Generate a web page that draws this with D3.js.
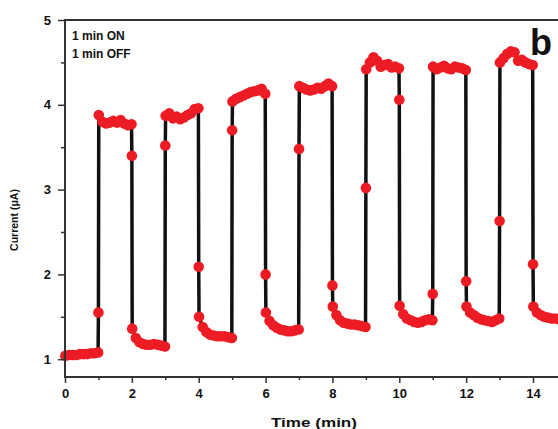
<!DOCTYPE html>
<html><head><meta charset="utf-8">
<script src="https://cdn.jsdelivr.net/npm/d3@7"></script>
<style>html,body{margin:0;padding:0;background:#fff;overflow:hidden}</style>
</head><body>
<svg id="chart" width="558" height="429"></svg>
<script>
// Each minute-long segment: 10 samples spread across the minute (values in µA)
const segmentStarts = [0,1,2,3,4,5,6,7,8,9,10,11,12,13,14];
const segmentValues = [
  [1.04,1.05,1.05,1.05,1.06,1.06,1.06,1.07,1.07,1.08],
  [3.88,3.80,3.78,3.79,3.81,3.79,3.82,3.78,3.76,3.77],
  [1.36,1.25,1.20,1.18,1.17,1.17,1.18,1.17,1.16,1.15],
  [3.87,3.90,3.84,3.86,3.83,3.85,3.88,3.90,3.95,3.96],
  [1.50,1.38,1.32,1.29,1.28,1.27,1.27,1.27,1.26,1.25],
  [4.04,4.07,4.09,4.11,4.13,4.15,4.16,4.17,4.19,4.13],
  [1.55,1.45,1.40,1.37,1.35,1.34,1.33,1.33,1.34,1.35],
  [4.22,4.20,4.18,4.17,4.18,4.20,4.19,4.22,4.25,4.22],
  [1.62,1.52,1.46,1.43,1.42,1.41,1.41,1.40,1.39,1.38],
  [4.42,4.50,4.56,4.52,4.45,4.47,4.48,4.44,4.45,4.43],
  [1.63,1.53,1.48,1.46,1.44,1.43,1.44,1.46,1.47,1.46],
  [4.45,4.42,4.44,4.46,4.43,4.42,4.45,4.44,4.43,4.41],
  [1.62,1.55,1.52,1.49,1.47,1.46,1.45,1.44,1.46,1.48],
  [4.50,4.55,4.60,4.63,4.62,4.52,4.53,4.50,4.48,4.47],
  [1.62,1.55,1.52,1.50,1.49,1.48,1.48,1.47]
];
// points captured exactly at each switching instant
const switchTimes  = [1,2,3,4,5,6,7,8,9,10,11,12,13,14];
const switchValues = [1.55,3.40,3.52,2.09,3.70,2.00,3.48,1.87,3.02,4.06,1.77,1.92,2.63,2.12];

const xTicks = [0,2,4,6,8,10,12,14];
const xMinorTicks = [1,3,5,7,9,11,13,15];
const yTicks = [1,2,3,4,5];
const yMinorTicks = [1.5,2.5,3.5,4.5];
const annotations = ["1 min ON","1 min OFF"];
const panelLabel = "b";
const xLabel = "Time (min)";
const yLabel = "Current (\u03bcA)";

// build ordered series
const series = [];
segmentValues.forEach((vals, k) => {
  vals.forEach((v, i) => series.push({t: segmentStarts[k] + 0.01 + i*0.98/9, v}));
  if (k < switchTimes.length) series.push({t: switchTimes[k], v: switchValues[k]});
});

const svg = d3.select("#chart");
const mLeft = 65, mTop = 20, mBottom = 377;
const x = d3.scaleLinear().domain([0, 16]).range([mLeft, mLeft + 16*33.43]);
const y = d3.scaleLinear().domain([0.79, 5]).range([mBottom, mTop]);
const font = "Arial, 'Liberation Sans', sans-serif";

const g = svg.append("g");

// line + dots
g.append("path").datum(series)
  .attr("d", d3.line().x(d => x(d.t)).y(d => y(d.v)))
  .attr("fill","none").attr("stroke","#111").attr("stroke-width",3.5);
g.selectAll("circle.pt").data(series).join("circle")
  .attr("cx", d => x(d.t)).attr("cy", d => y(d.v)).attr("r", 5.3)
  .attr("fill","#ED1C24");

// frame
g.append("line").attr("x1", mLeft).attr("x2", 600).attr("y1", mTop).attr("y2", mTop)
  .attr("stroke","#333").attr("stroke-width",2);
g.append("line").attr("x1", mLeft).attr("x2", 600).attr("y1", mBottom).attr("y2", mBottom)
  .attr("stroke","#333").attr("stroke-width",2);
g.append("line").attr("x1", mLeft).attr("x2", mLeft).attr("y1", mTop-1).attr("y2", mBottom+1)
  .attr("stroke","#333").attr("stroke-width",2);

// x axis
const xAx = g.append("g").attr("transform",`translate(0,${mBottom})`)
  .call(d3.axisBottom(x).tickValues(xTicks).tickSize(6).tickFormat(d3.format("d")));
xAx.select(".domain").remove();
xAx.selectAll(".tick line").attr("stroke","#333").attr("stroke-width",1.5);
xAx.selectAll(".tick text").attr("font-family",font).attr("font-weight","bold")
  .attr("font-size",13).attr("fill","#111").attr("dy","0.95em");
const xMin = g.append("g").attr("transform",`translate(0,${mBottom})`)
  .call(d3.axisBottom(x).tickValues(xMinorTicks).tickSize(3).tickFormat(""));
xMin.select(".domain").remove();
xMin.selectAll(".tick line").attr("stroke","#333").attr("stroke-width",1.5);

// y axis
const yAx = g.append("g").attr("transform",`translate(${mLeft},0)`)
  .call(d3.axisLeft(y).tickValues(yTicks).tickSize(7).tickFormat(d3.format("d")));
yAx.select(".domain").remove();
yAx.selectAll(".tick line").attr("stroke","#333").attr("stroke-width",1.5);
yAx.selectAll(".tick text").attr("font-family",font).attr("font-weight","bold")
  .attr("font-size",13).attr("fill","#111").attr("x",-14);
const yMin = g.append("g").attr("transform",`translate(${mLeft},0)`)
  .call(d3.axisLeft(y).tickValues(yMinorTicks).tickSize(4).tickFormat(""));
yMin.select(".domain").remove();
yMin.selectAll(".tick line").attr("stroke","#333").attr("stroke-width",1.5);

// labels
svg.append("text").text(xLabel).attr("x", 314).attr("y", 427)
  .attr("text-anchor","middle").attr("font-family",font).attr("font-weight","bold")
  .attr("font-size",12.5).attr("fill","#111")
  .attr("textLength",86).attr("lengthAdjust","spacingAndGlyphs");
svg.append("text").text(yLabel)
  .attr("transform","translate(18,220) rotate(-90)")
  .attr("text-anchor","middle").attr("font-family",font).attr("font-weight","bold")
  .attr("font-size",10.5).attr("fill","#111");

annotations.forEach((a, i) => {
  svg.append("text").text(a).attr("x", 72).attr("y", 40 + i*18)
    .attr("font-family",font).attr("font-weight","bold").attr("font-size",12)
    .attr("fill","#111");
});
svg.append("text").text(panelLabel).attr("x", 530).attr("y", 55)
  .attr("font-family",font).attr("font-weight","bold").attr("font-size",36)
  .attr("fill","#111");
</script>
</body></html>
